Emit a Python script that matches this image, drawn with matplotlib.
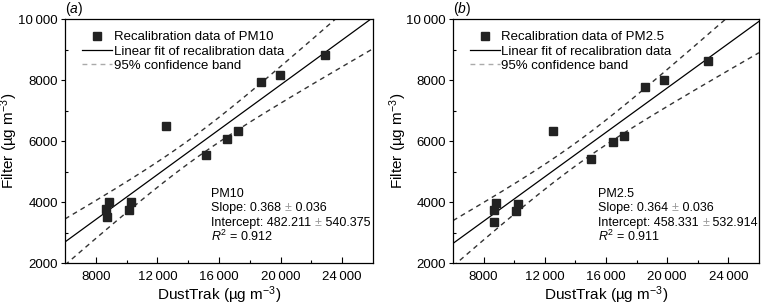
import numpy as np
import matplotlib.pyplot as plt
from matplotlib.lines import Line2D

plt.rcParams['font.family'] = ['Liberation Sans', 'DejaVu Sans']
plt.rcParams['mathtext.fontset'] = 'custom'
plt.rcParams['mathtext.rm'] = 'Liberation Sans'
plt.rcParams['mathtext.it'] = 'Liberation Sans:italic'

# recalibration data
pm10_x = [8690, 8730, 8860, 10160, 10290, 12560, 15150, 16490, 17210, 18710, 19950, 22870]
pm10_y = [3760, 3510, 3990, 3730, 3990, 6500, 5540, 6080, 6340, 7930, 8160, 8810]
pm25_x = [8650, 8670, 8840, 10140, 10270, 12510, 15000, 16450, 17190, 18560, 19820, 22690]
pm25_y = [3730, 3340, 3960, 3700, 3930, 6340, 5400, 5970, 6180, 7780, 8000, 8620]

# fit results printed on the panels
pm10_fit = [0.368, 0.036, 482.211, 540.375, 0.912]
pm25_fit = [0.364, 0.036, 458.331, 532.914, 0.911]

xticks = [8000, 12000, 16000, 20000, 24000]
xticklabels = ['8000', '12\u2009000', '16\u2009000', '20\u2009000', '24\u2009000']
yticks = [2000, 4000, 6000, 8000, 10000]
yticklabels = ['2000', '4000', '6000', '8000', '10\u2009000']

T95 = 2.228  # t(0.975, 10)


def panel(ax, xs, ys, fit, name, letter):
    xs = np.array(xs, float)
    ys = np.array(ys, float)
    slope, slope_se, icpt, icpt_se, r2 = fit
    n = len(xs)
    xbar = xs.mean()
    sxx = ((xs - xbar) ** 2).sum()
    s = slope_se * np.sqrt(sxx)

    xx = np.linspace(6000, 26000, 200)
    yy = slope * xx + icpt
    half = T95 * s * np.sqrt(1.0 / n + (xx - xbar) ** 2 / sxx)

    ax.plot(xx, yy, color='black', lw=0.9)
    ax.plot(xx, yy + half, color='#333333', lw=1.0, ls=(0, (3.5, 3)))
    ax.plot(xx, yy - half, color='#333333', lw=1.0, ls=(0, (3.5, 3)))
    ax.plot(xs, ys, 's', color='#222222', ms=5.5, mec='#222222')

    ax.set_xlim(6000, 26000)
    ax.set_ylim(2000, 10000)
    ax.set_xticks(xticks)
    ax.set_xticklabels(xticklabels)
    ax.set_yticks(yticks)
    ax.set_yticklabels(yticklabels)
    ax.set_xticks([10000, 14000, 18000, 22000], minor=True)
    ax.set_yticks([3000, 5000, 7000, 9000], minor=True)
    ax.tick_params(axis='x', which='major', direction='in', length=4, width=0.8, labelsize=9.5, pad=6)
    ax.tick_params(axis='x', which='minor', direction='in', length=2.5, width=0.8)
    ax.tick_params(axis='y', which='major', direction='out', length=3, width=0.8, labelsize=9.5, pad=2)
    ax.tick_params(axis='y', which='minor', direction='in', length=2.5, width=0.8)
    for sp in ax.spines.values():
        sp.set_linewidth(0.9)

    ax.set_xlabel('DustTrak (µg m$^{-3}$)', fontsize=11, labelpad=0.5)
    ax.set_ylabel('Filter (µg m$^{-3}$)', fontsize=11)
    ax.yaxis.set_label_coords(-0.145, 0.5)

    handles = [
        Line2D([], [], marker='s', ls='none', color='#222222', ms=5.5),
        Line2D([], [], color='black', lw=0.9),
        Line2D([], [], color='#aaaaaa', lw=1.0, ls=(0, (3.5, 3))),
    ]
    labels = ['Recalibration data of ' + name, 'Linear fit of recalibration data',
              '95% confidence band']
    ax.legend(handles, labels, loc='upper left', frameon=False, fontsize=9.5,
              handlelength=2.3, handletextpad=0.1, labelspacing=0.15,
              borderaxespad=0, borderpad=0, bbox_to_anchor=(0.055, 0.95))

    ax.text(0, 1.005, '($\\it{' + letter + '}$)', transform=ax.transAxes,
            fontsize=10, ha='left', va='bottom')

    # fit summary, with grey plus-minus signs
    fs = 9
    x0, y0, dy = 0.475, 0.259, 0.06
    ax.text(x0, y0, name, transform=ax.transAxes, fontsize=fs, va='bottom')
    rows = [('Slope: %.3f ' % slope, '%.3f' % slope_se),
            ('Intercept: %.3f ' % icpt, '%.3f' % icpt_se)]
    for i, (a, b) in enumerate(rows):
        t = ax.text(x0, y0 - dy * (i + 1), a, transform=ax.transAxes, fontsize=fs, va='bottom')
        t = ax.annotate('±', xy=(1, 0), xycoords=t, fontsize=fs, va='bottom', color='#999999')
        ax.annotate(' ' + b, xy=(1, 0), xycoords=t, fontsize=fs, va='bottom')
    ax.text(x0, y0 - dy * 3, '$R^2$ = %.3f' % r2, transform=ax.transAxes,
            fontsize=fs, va='bottom')


fig = plt.figure(figsize=(7.63, 3.06), dpi=100)
ax1 = fig.add_axes([0.0852, 0.1405, 0.4037, 0.7974])
ax2 = fig.add_axes([0.5937, 0.1405, 0.4010, 0.7974])
panel(ax1, pm10_x, pm10_y, pm10_fit, 'PM10', 'a')
panel(ax2, pm25_x, pm25_y, pm25_fit, 'PM2.5', 'b')

fig.savefig('out.png', dpi=100)
